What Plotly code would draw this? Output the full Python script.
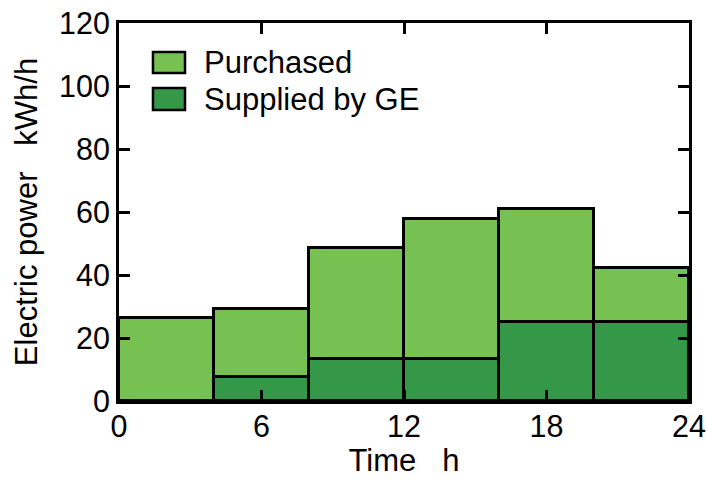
import plotly.graph_objects as go

# Hourly blocks (start hour of each 4-hour interval)
block_start = [0, 4, 8, 12, 16, 20]
block_width = 4
supplied_by_ge = [0.0, 7.6, 13.3, 13.3, 25.0, 25.0]
purchased = [26.3, 21.7, 35.3, 44.5, 35.8, 17.2]

x_ticks = [0, 6, 12, 18, 24]
y_ticks = [0, 20, 40, 60, 80, 100, 120]

series_names = ["Purchased", "Supplied by GE"]
series_colors = ["#77C152", "#359848"]

centers = [s + block_width / 2 for s in block_start]
FAMILY = "Liberation Sans, Arial, sans-serif"
TICK_FONT = dict(family=FAMILY, size=30.5, color="black")
TITLE_FONT = dict(family=FAMILY, size=31, color="black")

fig = go.Figure()
fig.add_trace(go.Bar(
    x=centers, y=supplied_by_ge, width=[block_width] * len(centers),
    name=series_names[1],
    marker=dict(color=series_colors[1], line=dict(color="black", width=3)),
))
fig.add_trace(go.Bar(
    x=centers, y=purchased, width=[block_width] * len(centers),
    name=series_names[0],
    marker=dict(color=series_colors[0], line=dict(color="black", width=3)),
))

axis_common = dict(
    showline=True, linecolor="black", linewidth=3, mirror="allticks",
    ticks="inside", ticklen=11, tickwidth=3, tickcolor="black",
    showgrid=False, zeroline=False, tickfont=TICK_FONT, automargin=False,
)

# Legend drawn as large swatches with labels, in the upper-left of the plot
legend_rows = [(0.8677, 0.9233), (0.7698, 0.8280)]
for name, color, (y0, y1) in zip(series_names, series_colors, legend_rows):
    fig.add_shape(type="rect", xref="paper", yref="paper",
                  x0=0.0596, x1=0.1158, y0=y0, y1=y1,
                  fillcolor=color, line=dict(color="black", width=2.5))
    fig.add_annotation(xref="paper", yref="paper", x=0.1456, y=(y0 + y1) / 2,
                       xanchor="left", yanchor="middle", showarrow=False,
                       text=name, font=TITLE_FONT)

fig.update_layout(
    barmode="stack", bargap=0,
    width=707, height=486,
    margin=dict(l=119, r=18, t=23, b=85),
    paper_bgcolor="white", plot_bgcolor="white",
    font=TICK_FONT,
    showlegend=False,
    xaxis=dict(range=[0, 24], tickvals=x_ticks, ticklabelstandoff=-4,
               title=dict(text="Time   h", font=TITLE_FONT, standoff=4), **axis_common),
    yaxis=dict(range=[0, 120], tickvals=y_ticks,
               title=dict(text="Electric power   kWh/h", font=TITLE_FONT, standoff=13), **axis_common),
)

fig.write_html("out.html")
